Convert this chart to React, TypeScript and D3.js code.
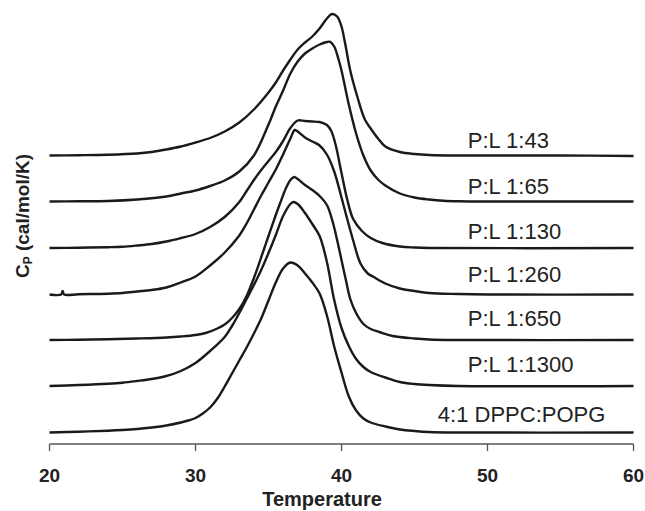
import React from "react";
import * as d3 from "d3";

const W = 645;
const H = 511;

// x ticks
const xTicks = [20, 30, 40, 50, 60];

// curve labels
const labels = ["P:L 1:43", "P:L 1:65", "P:L 1:130", "P:L 1:260", "P:L 1:650", "P:L 1:1300", "4:1 DPPC:POPG"];

// vertical offsets of each trace (arbitrary Cp units)
const offsets = [288.5, 242.5, 196, 149.5, 104, 58, 11.5];

// excess heat capacity traces: [temperature, Cp]
const pl43: [number, number][] = [
  [20, 0], [22, 0.3], [24, 0.8], [26, 2], [27, 3.5], [28, 6], [29, 9], [30, 13], [31, 17.5], [32, 24],
  [33, 33], [34, 46], [35, 63], [35.5, 73], [36, 85], [36.5, 96], [37, 106], [37.5, 113], [38, 119],
  [38.5, 127], [39, 137], [39.35, 141.5], [39.7, 139], [40, 129], [40.25, 112], [40.6, 85], [41.1, 58],
  [41.6, 36], [42, 27], [42.5, 17], [43, 9], [44, 3.5], [45, 1.5], [46, 0.5], [48, 0], [50, 0], [55, 0], [60, -0.5],
];
const pl65: [number, number][] = [
  [20, 0], [22, 0.2], [24, 0.5], [26, 2], [28, 5], [29, 8], [30, 11], [31, 15.5], [32, 21], [33, 30],
  [34, 46], [35, 77], [35.5, 95], [36, 111], [36.5, 128], [37, 140], [37.5, 148], [38, 153], [38.5, 157],
  [39, 159.5], [39.2, 159.8], [39.5, 155], [39.8, 142], [40, 131], [40.5, 97], [41, 68], [41.5, 46],
  [42, 31], [42.5, 22], [43, 16], [44, 8], [45, 4], [46, 2], [47, 0.8], [48, 0.3], [50, 0], [60, 0],
];
const pl130: [number, number][] = [
  [20, 0], [22, 0.3], [24, 0.8], [25, 1.3], [26, 2.5], [27, 4], [28, 6.5], [29, 10], [30, 14], [31, 21],
  [32, 31], [33, 46], [33.5, 57], [34, 68], [34.5, 78], [35, 87], [35.5, 96], [36, 107], [36.5, 120],
  [37, 127.5], [37.5, 127], [38, 126.5], [38.5, 126], [39, 123], [39.3, 117], [39.6, 103], [40, 75],
  [40.4, 48], [40.8, 29], [41.4, 17], [42, 10], [42.8, 5], [44, 1.5], [45, 0.5], [46, 0], [60, 0],
];
const pl260: [number, number][] = [
  [20, 0], [20.8, 0], [20.9, 3.5], [21, 0], [22, 0.3], [24, 0.8], [25, 1.5], [26, 3], [27, 4.5], [28, 7],
  [29, 12], [30, 18], [31, 29], [32, 42], [33, 59], [33.5, 71], [34, 85], [34.5, 99], [35, 112],
  [35.5, 125], [36, 140], [36.5, 156], [36.8, 164.5], [37, 163], [37.5, 157], [38, 153], [38.5, 149],
  [39, 140], [39.5, 123], [40, 97], [40.4, 75], [40.8, 54], [41.3, 31], [41.8, 21], [42.2, 17.5],
  [43, 11], [44, 6], [45, 3.5], [46, 1.5], [48, 0.5], [50, 0], [60, 0],
];
const pl650: [number, number][] = [
  [20, 0], [22, 0.3], [24, 0.8], [26, 1.5], [28, 2.5], [29, 3.5], [30, 5], [30.7, 7], [31.5, 11.5], [32, 15.5],
  [32.5, 22], [33, 31], [33.5, 44], [34, 62], [34.6, 87], [35, 104], [35.5, 125], [35.8, 137], [36.2, 152],
  [36.5, 160], [36.75, 163], [37, 161], [37.5, 155], [38, 150], [38.5, 144], [39, 135], [39.4, 118],
  [39.7, 100], [40, 80], [40.3, 60], [40.6, 41], [41, 27], [41.5, 16], [42, 11], [42.6, 8], [43.5, 4],
  [45, 1.5], [46, 0.5], [48, 0], [60, 0],
];
const pl1300: [number, number][] = [
  [20, 0], [22, 1], [24, 2.3], [25, 3.3], [26, 5], [27, 7], [28, 10], [29, 15], [30, 23], [31, 35],
  [32, 49], [32.5, 60], [33, 73], [33.5, 87], [34, 101], [34.5, 116], [35, 133], [35.5, 151], [36, 170],
  [36.5, 182], [36.7, 184], [37, 182], [37.5, 173], [38, 162], [38.5, 150], [39, 124], [39.5, 86],
  [40, 58], [40.5, 40], [41, 27], [41.5, 19], [42, 14], [43, 8.5], [44, 4], [45, 2], [46, 1], [48, 0], [60, 0],
];
const dppc: [number, number][] = [
  [20, 0], [22, 0.8], [24, 1.8], [25, 2.5], [26, 3.5], [27, 5], [28, 7], [29, 10], [29.5, 12], [30, 14.5],
  [30.5, 19], [31, 25], [31.5, 34], [32, 46], [32.5, 59], [33, 72], [33.5, 85], [34, 99], [34.5, 114], [35, 132],
  [35.5, 150], [36, 164], [36.5, 170], [37, 167], [37.5, 159], [38, 150], [38.5, 139], [39, 117],
  [39.5, 86], [40, 60], [40.5, 36], [41, 22], [41.5, 14], [42, 10], [43, 6], [44, 3], [45, 1.5],
  [46, 0.5], [48, 0], [60, 0],
];

const traces = [pl43, pl65, pl130, pl260, pl650, pl1300, dppc];

// label positions (temperature of text start, value of text baseline)
const labelT = [48.65, 48.65, 48.65, 48.65, 48.65, 48.65, 46.6];
const labelY = [296, 250, 205.5, 162, 118, 72, 22.5];

export default function App() {
  const x = d3.scaleLinear().domain([20, 60]).range([49.5, 633.5]);
  const y = d3.scaleLinear().domain([0, 444]).range([444, 0]);

  const axisY = 444;

  return (
    <svg
      width={W}
      height={H}
      style={{ position: "absolute", left: 0, top: 0, background: "#fff" }}
      fontFamily="'Liberation Sans', Arial, sans-serif"
    >
      <rect width={W} height={H} fill="#fff" />
      {traces.map((tr, i) => {
        const line = d3
          .line<[number, number]>()
          .x((d) => x(d[0]))
          .y((d) => y(d[1] + offsets[i]))
          .curve(d3.curveCatmullRom.alpha(0.5));
        return (
          <path
            key={i}
            d={line(tr) || ""}
            fill="none"
            stroke="#1a1a1a"
            strokeWidth={2.4}
            strokeLinejoin="round"
          />
        );
      })}
      {labels.map((l, i) => (
        <text key={l} x={x(labelT[i])} y={y(labelY[i])} fontSize={22} fill="#222">
          {l}
        </text>
      ))}
      <line x1={x(20)} x2={x(60)} y1={axisY} y2={axisY} stroke="#555" strokeWidth={1.3} />
      {xTicks.map((t) => (
        <g key={t}>
          <line x1={x(t)} x2={x(t)} y1={axisY} y2={axisY + 7} stroke="#555" strokeWidth={1.3} />
          <text x={x(t)} y={482} textAnchor="middle" fontSize={19} fontWeight="bold" fill="#222">
            {t}
          </text>
        </g>
      ))}
      <text x={322} y={506} textAnchor="middle" fontSize={20} fontWeight="bold" fill="#222">
        Temperature
      </text>
      <text
        transform="translate(29,216) rotate(-90)"
        textAnchor="middle"
        fontSize={19}
        fontWeight="bold"
        fill="#222"
      >
        C<tspan fontSize={12} dy={3}>P</tspan>
        <tspan dy={-3}> (cal/mol/K)</tspan>
      </text>
    </svg>
  );
}
